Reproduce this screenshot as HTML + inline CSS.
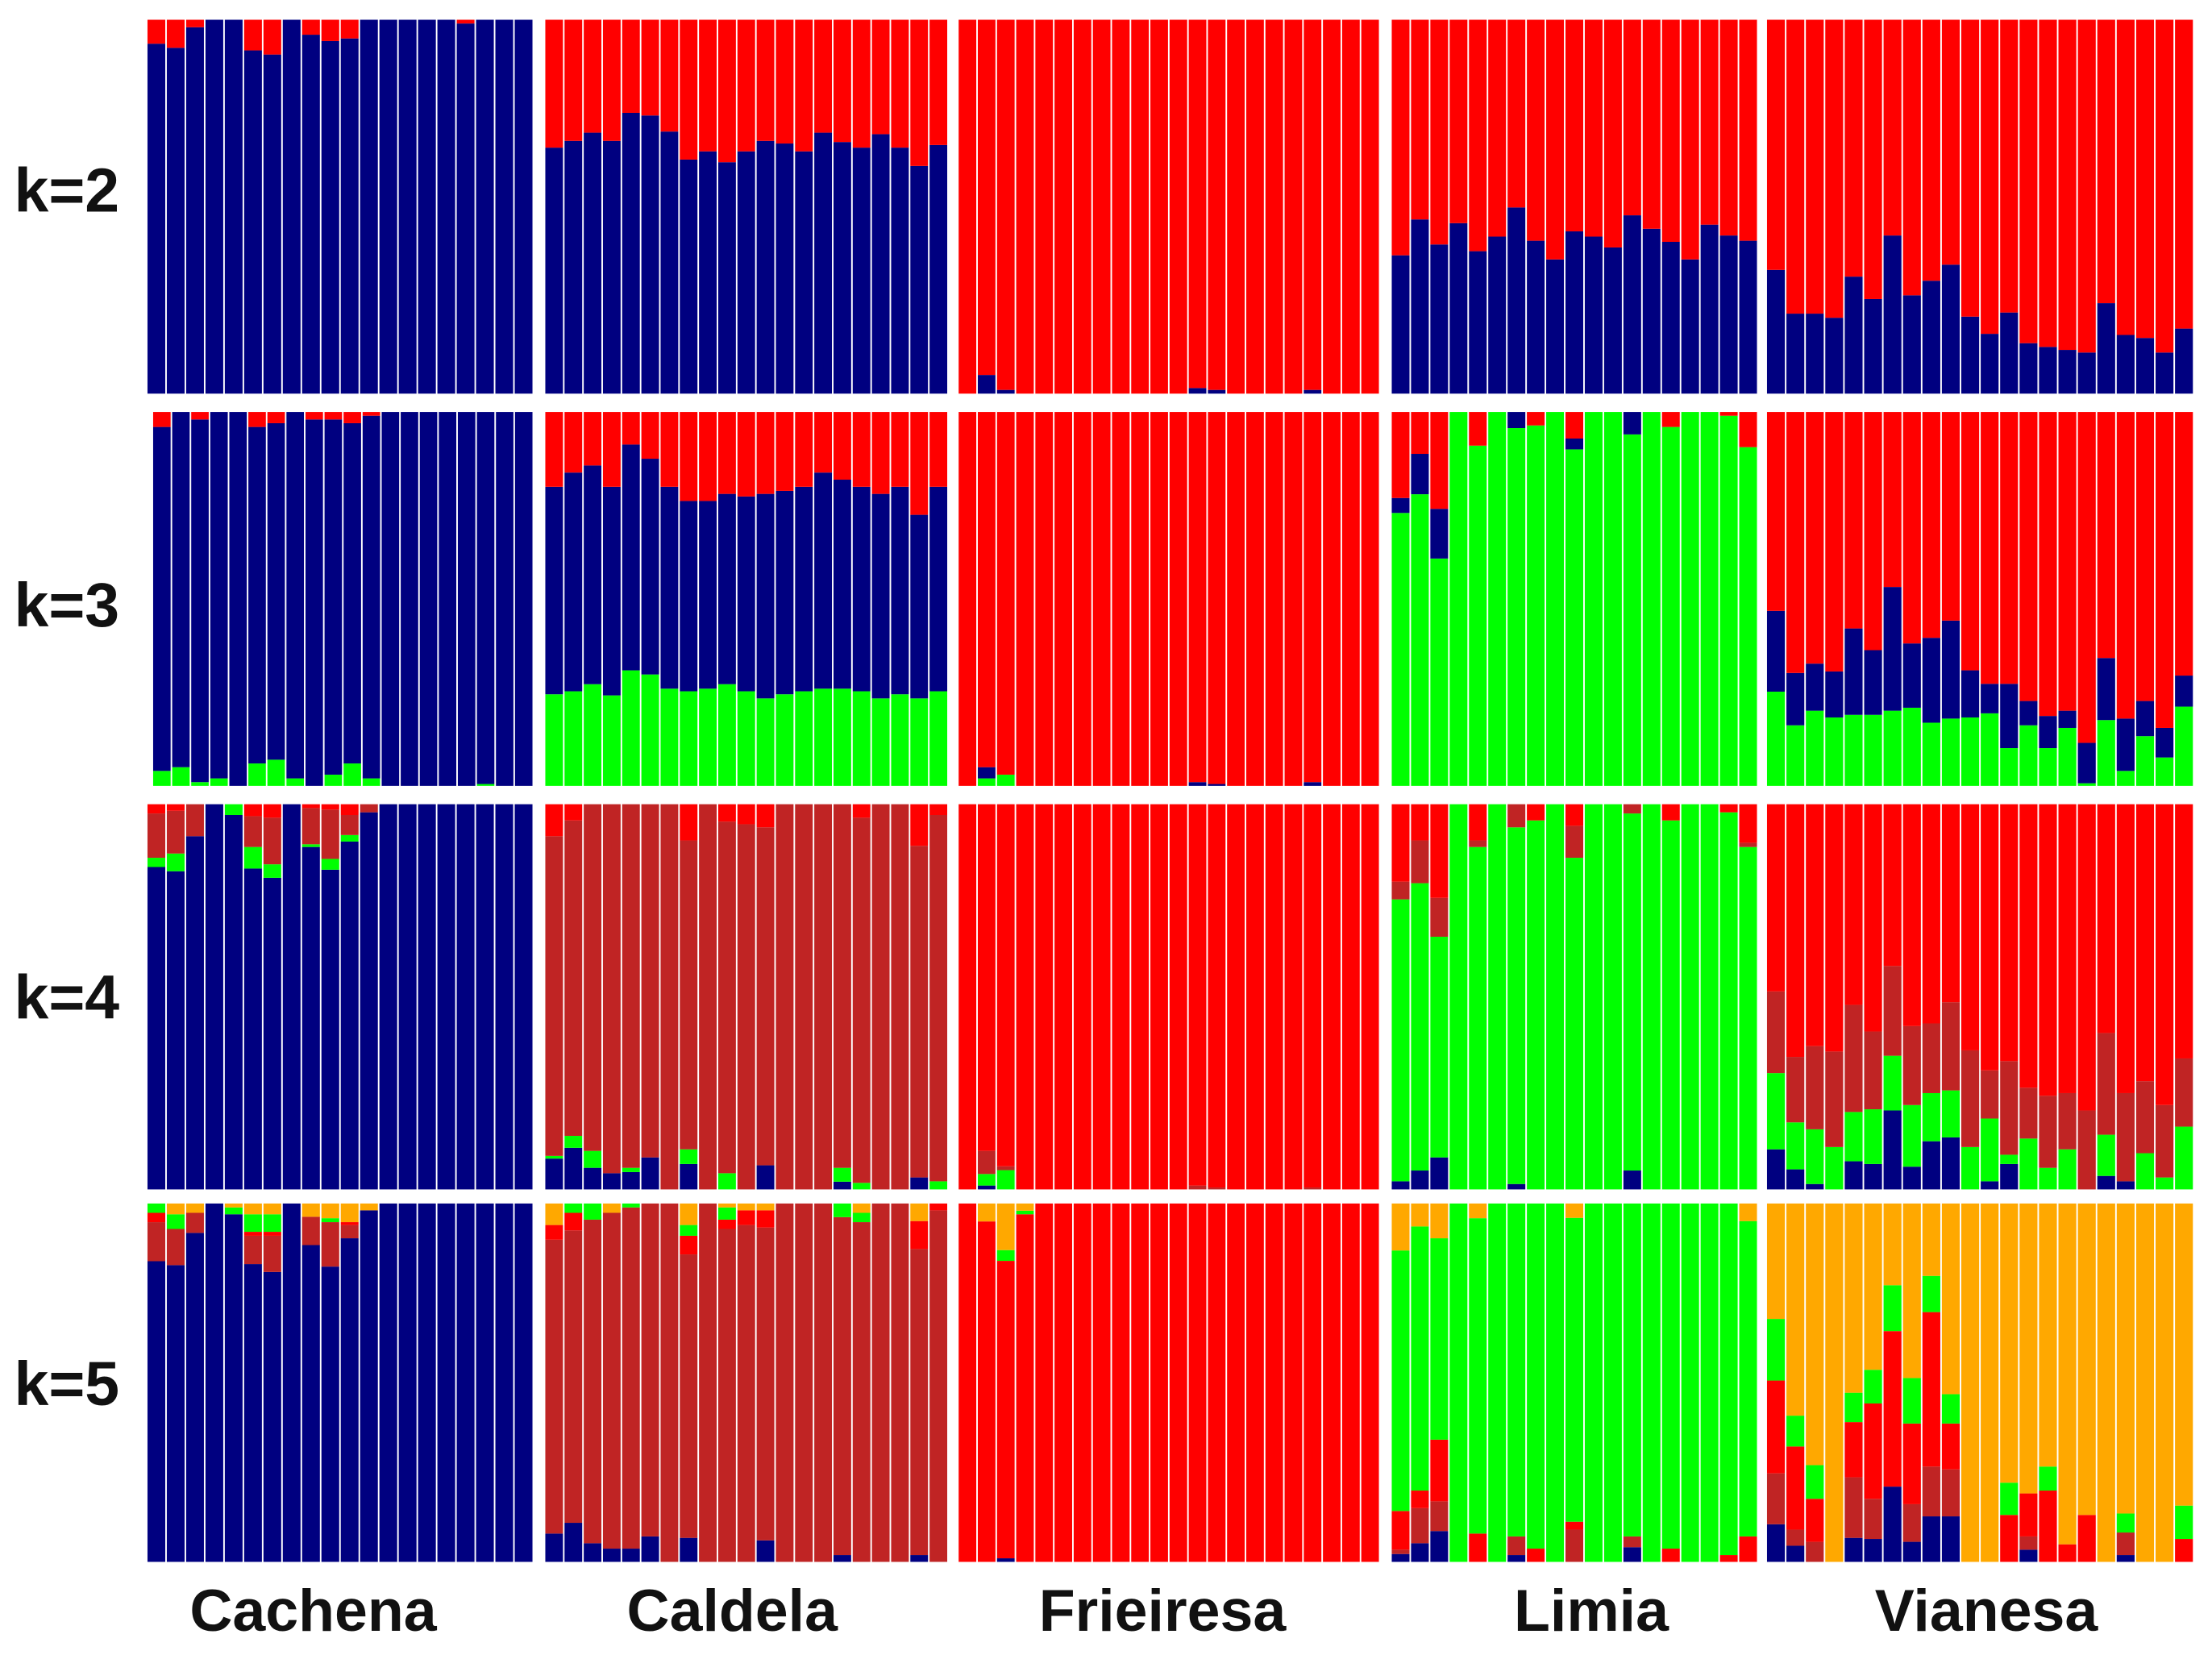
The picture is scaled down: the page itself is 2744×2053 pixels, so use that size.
<!DOCTYPE html>
<html><head><meta charset="utf-8"><style>
html,body{margin:0;padding:0;background:#fff;}
svg{display:block;}
text{font-family:"Liberation Sans",Arial,sans-serif;font-weight:bold;fill:#111;}
</style></head><body>
<svg id="chart" width="2744" height="2053" viewBox="0 0 1568 1173" preserveAspectRatio="none" xmlns="http://www.w3.org/2000/svg">
<rect x="0" y="0" width="1568" height="1173" fill="#fff"/>
<g id="bars"></g>
<text x="10" y="150" font-size="44">k=2</text>
<text x="10" y="444" font-size="44">k=3</text>
<text x="10" y="722" font-size="44">k=4</text>
<text x="10" y="996" font-size="44">k=5</text>
<text x="222" y="1156" font-size="42" text-anchor="middle">Cachena</text>
<text x="519" y="1156" font-size="42" text-anchor="middle">Caldela</text>
<text x="824" y="1156" font-size="42" text-anchor="middle">Frieiresa</text>
<text x="1128" y="1156" font-size="42" text-anchor="middle">Limia</text>
<text x="1408" y="1156" font-size="42" text-anchor="middle">Vianesa</text>
</svg>
<script>
// Breeds and K values
const breeds = ["Cachena","Caldela","Frieiresa","Limia","Vianesa"];
const kValues = [2,3,4,5];
// Stack colours per K (bottom to top)
const k2Colors = ["#000080","#ff0000"];
const k3Colors = ["#00ff00","#000080","#ff0000"];
const k4Colors = ["#000080","#00ff00","#c02424","#ff0000"];
const k5Colors = ["#000080","#c02424","#ff0000","#00ff00","#ffa800"];

// Cumulative ancestry boundaries per individual (last component fills to 1)
// K=2: [blue]
const k2Cachena = [[0.936],[0.925],[0.98],[1],[1],[0.918],[0.907],[1],[0.96],[0.943],[0.95],[1],[1],[1],[1],[1],[0.99],[1],[1],[1]];
const k2Caldela = [[0.658],[0.676],[0.698],[0.676],[0.751],[0.744],[0.701],[0.626],[0.648],[0.619],[0.648],[0.676],[0.669],[0.648],[0.698],[0.673],[0.658],[0.694],[0.658],[0.609],[0.665]];
const k2Frieiresa = [[0],[0.05],[0.01],[0],[0],[0],[0],[0],[0],[0],[0],[0],[0.015],[0.01],[0],[0],[0],[0],[0.01],[0],[0],[0]];
const k2Limia = [[0.37],[0.466],[0.399],[0.456],[0.381],[0.42],[0.498],[0.409],[0.359],[0.434],[0.42],[0.391],[0.477],[0.441],[0.406],[0.359],[0.452],[0.423],[0.409]];
const k2Vianesa = [[0.331],[0.214],[0.214],[0.203],[0.313],[0.253],[0.423],[0.263],[0.302],[0.345],[0.206],[0.16],[0.217],[0.135],[0.125],[0.117],[0.11],[0.242],[0.157],[0.149],[0.11],[0.174]];
// K=3: [green, green+blue]
const k3Cachena = [[0.04,0.96],[0.05,1],[0.01,0.98],[0.02,1],[0,1],[0.06,0.96],[0.07,0.97],[0.02,1],[0,0.98],[0.03,0.98],[0.06,0.97],[0.02,0.99],[0,1],[0,1],[0,1],[0,1],[0,1],[0.005,1],[0,1],[0,1]];
const k3Caldela = [[0.245,0.8],[0.253,0.838],[0.272,0.857],[0.242,0.8],[0.309,0.913],[0.298,0.875],[0.26,0.8],[0.253,0.762],[0.26,0.762],[0.272,0.781],[0.253,0.774],[0.234,0.781],[0.245,0.789],[0.253,0.8],[0.26,0.838],[0.26,0.819],[0.253,0.8],[0.234,0.781],[0.245,0.8],[0.234,0.725],[0.253,0.8]];
const k3Frieiresa = [[0,0],[0.02,0.05],[0.03,0.03],[0,0],[0,0],[0,0],[0,0],[0,0],[0,0],[0,0],[0,0],[0,0],[0,0.01],[0,0.005],[0,0],[0,0],[0,0],[0,0],[0,0.01],[0,0],[0,0],[0,0]];
const k3Limia = [[0.73,0.77],[0.78,0.888],[0.608,0.741],[1,1],[0.91,0.91],[1,1],[0.957,1],[0.964,0.964],[1,1],[0.9,0.929],[1,1],[1,1],[0.94,1],[1,1],[0.96,0.96],[1,1],[1,1],[0.99,0.99],[0.906,0.906]];
const k3Vianesa = [[0.252,0.468],[0.162,0.302],[0.201,0.327],[0.183,0.306],[0.19,0.421],[0.19,0.363],[0.201,0.532],[0.209,0.381],[0.169,0.396],[0.18,0.442],[0.183,0.309],[0.194,0.273],[0.101,0.273],[0.162,0.227],[0.101,0.187],[0.155,0.201],[0.007,0.115],[0.176,0.342],[0.04,0.18],[0.133,0.227],[0.076,0.155],[0.212,0.295]];
// K=4: [blue, +green, +brown]
const k4Cachena = [[0.837,0.861,0.976],[0.826,0.872,0.983],[0.917,0.917,1],[1,1,1],[0.972,1,1],[0.833,0.889,0.969],[0.809,0.844,0.965],[1,1,1],[0.889,0.896,0.99],[0.83,0.858,0.986],[0.903,0.92,0.972],[0.979,0.979,1],[1,1,1],[1,1,1],[1,1,1],[1,1,1],[1,1,1],[1,1,1],[1,1,1],[1,1,1]];
const k4Caldela = [[0.08,0.087,0.917],[0.108,0.139,0.958],[0.056,0.1,1],[0.042,0.042,1],[0.045,0.056,1],[0.083,0.083,1],[0,0,1],[0.066,0.104,0.906],[0,0,1],[0,0.042,0.955],[0,0,0.948],[0.0625,0.0625,0.94],[0,0,1],[0,0,1],[0,0,1],[0.02,0.056,1],[0,0.017,0.965],[0,0,1],[0,0,1],[0.031,0.031,0.892],[0,0.021,0.972]];
const k4Frieiresa = [[0,0,0],[0.01,0.04,0.1],[0,0.05,0.06],[0,0,0],[0,0,0],[0,0,0],[0,0,0],[0,0,0],[0,0,0],[0,0,0],[0,0,0],[0,0,0],[0,0,0.01],[0,0,0.005],[0,0,0],[0,0,0],[0,0,0],[0,0,0],[0,0,0.005],[0,0,0],[0,0,0],[0,0,0]];
const k4Limia = [[0.021,0.753,0.799],[0.049,0.795,0.906],[0.083,0.656,0.757],[0,1,1],[0,0.889,0.906],[0,1,1],[0.014,0.94,1],[0,0.958,0.958],[0,1,1],[0,0.861,0.944],[0,1,1],[0,1,1],[0.049,0.976,1],[0,1,1],[0,0.958,0.958],[0,1,1],[0,1,1],[0,0.979,0.979],[0,0.889,0.9]];
const k4Vianesa = [[0.104,0.302,0.514],[0.052,0.174,0.344],[0.014,0.156,0.372],[0,0.11,0.358],[0.073,0.201,0.479],[0.066,0.208,0.41],[0.205,0.347,0.58],[0.059,0.219,0.424],[0.125,0.25,0.431],[0.135,0.257,0.486],[0,0.11,0.361],[0.021,0.184,0.309],[0.066,0.09,0.333],[0,0.132,0.264],[0,0.056,0.243],[0,0.104,0.25],[0,0,0.205],[0.035,0.142,0.406],[0.021,0.021,0.25],[0,0.094,0.281],[0,0.031,0.219],[0,0.163,0.34]];
// K=5: [blue, +brown, +red, +green]
const k5Cachena = [[0.839,0.948,0.974,1],[0.828,0.929,0.929,0.97],[0.918,0.974,0.974,0.974],[1,1,1,1],[0.97,0.97,0.97,0.989],[0.831,0.91,0.921,0.97],[0.809,0.91,0.921,0.97],[1,1,1,1],[0.884,0.963,0.963,0.963],[0.824,0.948,0.948,0.959],[0.903,0.94,0.948,0.948],[0.981,0.981,0.981,0.981],[1,1,1,1],[1,1,1,1],[1,1,1,1],[1,1,1,1],[1,1,1,1],[1,1,1,1],[1,1,1,1],[1,1,1,1]];
const k5Caldela = [[0.079,0.899,0.94,0.94],[0.109,0.925,0.974,1],[0.052,0.955,0.955,1],[0.037,0.974,0.974,0.974],[0.037,0.989,0.989,1],[0.071,1,1,1],[0,1,1,1],[0.067,0.858,0.91,0.94],[0,1,1,1],[0,0.929,0.955,0.989],[0,0.94,0.981,0.981],[0.06,0.933,0.981,0.981],[0,1,1,1],[0,1,1,1],[0,1,1,1],[0.019,0.962,0.962,1],[0,0.948,0.948,0.974],[0,1,1,1],[0,1,1,1],[0.019,0.873,0.951,0.951],[0,0.981,1,1]];
const k5Frieiresa = [[0,0,1,1],[0,0,0.95,0.95],[0.01,0.01,0.84,0.87],[0,0,0.97,0.98],[0,0,1,1],[0,0,1,1],[0,0,1,1],[0,0,1,1],[0,0,1,1],[0,0,1,1],[0,0,1,1],[0,0,1,1],[0,0,1,1],[0,0,1,1],[0,0,1,1],[0,0,1,1],[0,0,1,1],[0,0,1,1],[0,0,1,1],[0,0,1,1],[0,0,1,1],[0,0,1,1]];
const k5Limia = [[0.022,0.034,0.142,0.869],[0.052,0.15,0.199,0.936],[0.086,0.169,0.341,0.903],[0,0,0,1],[0,0,0.079,0.959],[0,0,0,1],[0.019,0.071,0.071,1],[0,0,0.037,1],[0,0,0,1],[0,0.09,0.112,0.96],[0,0,0,1],[0,0,0,1],[0.041,0.071,0.071,1],[0,0,0,1],[0,0,0.037,1],[0,0,0,1],[0,0,0,1],[0,0,0.019,1],[0,0,0.071,0.951]];
const k5Vianesa = [[0.105,0.247,0.506,0.678],[0.045,0.09,0.322,0.408],[0,0.056,0.176,0.27],[0,0,0,0],[0.067,0.236,0.39,0.472],[0.064,0.176,0.442,0.536],[0.21,0.21,0.644,0.772],[0.056,0.161,0.386,0.513],[0.127,0.266,0.697,0.798],[0.127,0.258,0.386,0.468],[0,0,0,0],[0,0,0,0],[0,0,0.131,0.221],[0.034,0.071,0.191,0.191],[0,0,0.199,0.266],[0,0,0.049,0.049],[0,0,0.131,0.131],[0,0,0,0],[0.019,0.082,0.082,0.135],[0,0,0,0],[0,0,0,0],[0,0,0.064,0.157]];

const rowData = [
  [k2Cachena,k2Caldela,k2Frieiresa,k2Limia,k2Vianesa],
  [k3Cachena,k3Caldela,k3Frieiresa,k3Limia,k3Vianesa],
  [k4Cachena,k4Caldela,k4Frieiresa,k4Limia,k4Vianesa],
  [k5Cachena,k5Caldela,k5Frieiresa,k5Limia,k5Vianesa]
];
const rowColors = [k2Colors,k3Colors,k4Colors,k5Colors];

// Layout (viewBox units)
const panelX = [[104,378],[386,672],[679,978],[986,1246],[1252,1555]];
const rowY = [[14,279],[292,557],[570,843],[853,1107]];

const NS = "http://www.w3.org/2000/svg";
const g = document.getElementById("bars");
function yScale(r, v){ const [t,b]=rowY[r]; return b-(b-t)*v; }
for (let r=0;r<rowData.length;r++){
  const cols = rowColors[r];
  for (let p=0;p<breeds.length;p++){
    const data = rowData[r][p];
    let [x0,x1] = panelX[p];
    if (r===1 && p===0) x0 = 108;
    const bw = (x1-x0)/data.length;
    const pg = document.createElementNS(NS,"g");
    
    
    g.appendChild(pg);
    data.forEach((bounds,i)=>{
      const cum = [0].concat(bounds).concat([1]);
      for (let c=0;c<cols.length;c++){
        const lo = Math.min(cum[c],1), hi = Math.min(Math.max(cum[c+1],lo),1);
        if (hi-lo <= 0) continue;
        const rect = document.createElementNS(NS,"rect");
        rect.setAttribute("x", x0+i*bw+0.55);
        rect.setAttribute("width", Math.max(bw-1.1,0.5));
        rect.setAttribute("y", yScale(r,hi));
        rect.setAttribute("height", yScale(r,lo)-yScale(r,hi));
        rect.setAttribute("fill", cols[c]);
        
        
        pg.appendChild(rect);
      }
    });
  }
}
</script>
</body></html>
